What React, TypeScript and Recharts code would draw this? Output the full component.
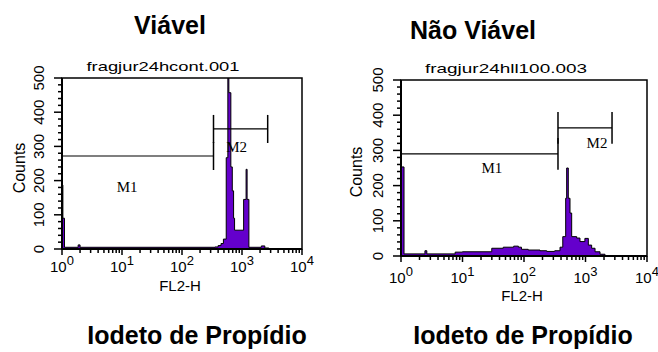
import React from 'react';
import { AreaChart, Area, XAxis, YAxis, ReferenceArea, ReferenceLine, ReferenceDot } from 'recharts';

// FL2-H value where each histogram step starts, and its count
const viavelFl2 = [1, 1.035, 1.1, 1.86, 2, 355, 400, 447, 490, 546, 581, 604, 652, 689, 724, 752, 1064, 1170, 1216, 1303, 2100, 2400, 2800, 10000];
const viavelCounts = [187, 90, 5, 12, 5, 6, 10, 16, 29, 267, 620, 457, 240, 170, 90, 55, 145, 233, 145, 5, 9, 3, 0, 0];

const naoViavelFl2 = [1, 1.12, 2.45, 2.63, 7.6, 10, 29.9, 46, 68, 81, 91, 117, 182, 234, 316, 385, 427, 476, 494, 525, 560, 596, 719, 813, 977, 1112, 1259, 1429, 1722, 2075, 10000];
const naoViavelCounts = [253, 6, 15, 6, 11, 12, 22, 25, 28, 25, 19, 17, 15, 13, 15, 25, 55, 164, 250, 164, 122, 55, 51, 41, 50, 31, 22, 12, 5, 0, 0];

// markers: [name, from, to, height(counts), label x, label y]
const viavelMarkers: [string, number, number, number, number, number][] = [
  ['M1', 1, 335, 272, 12.2, 181],
  ['M2', 335, 2680, 351, 813, 298],
];
const naoViavelMarkers: [string, number, number, number, number, number][] = [
  ['M1', 1, 357, 290, 30, 250],
  ['M2', 357, 2700, 364, 1540, 321],
];

const xDecades = [1, 10, 100, 1000, 10000];
const xMinorSteps = [2, 3, 4, 5, 6, 7, 8, 9];
const yMajor = [0, 100, 200, 300, 400, 500];
const yMinorStep = 20;

const xTicks: number[] = [];
xDecades.forEach((d, i) => {
  xTicks.push(d);
  if (i < xDecades.length - 1) xMinorSteps.forEach((m) => xTicks.push(d * m));
});
const yTicks: number[] = [];
for (let v = 0; v <= 500; v += yMinorStep) yTicks.push(v);

const sans = '"Liberation Sans", Arial, Helvetica, sans-serif';
const serif = '"Liberation Serif", "Times New Roman", serif';
const purple = '#6400cc';

const renderXTick = (labelDy: number) => (props: any) => {
  const x = Number(props.x);
  const y = Number(props.y);
  const lg = Math.log10(props.payload.value);
  const exp = Math.round(lg);
  const major = Math.abs(lg - exp) < 1e-6;
  return (
    <g>
      <line x1={x} x2={x} y1={y} y2={y + (major ? 6 : 4)} stroke="#000" strokeWidth={1.5} />
      {major && (
        <text x={x} y={y + labelDy} textAnchor="middle" fontSize={15} fontFamily={sans} fill="#000" stroke="none">
          10<tspan dy={-7} fontSize={13}>{exp}</tspan>
        </text>
      )}
    </g>
  );
};

const renderYTick = (props: any) => {
  const x = Number(props.x);
  const y = Number(props.y);
  const v = props.payload.value;
  const major = yMajor.includes(v);
  return (
    <g>
      <line x1={x - (major ? 8 : 4)} x2={x} y1={y} y2={y} stroke="#000" strokeWidth={1.5} />
      {major && (
        <g transform={`translate(${x - 18},${y}) rotate(-90)`}>
          <text x={0} y={0} textAnchor="middle" fontSize={15} fontFamily={sans} fill="#000" stroke="none">
            {v}
          </text>
        </g>
      )}
    </g>
  );
};

const Histogram = ({ fl2, counts, markers, margin, tickHalf, labelDy }: any) => {
  const data = fl2.map((x: number, i: number) => ({ x, c: counts[i] }));
  return (
    <AreaChart width={329} height={352} data={data} margin={margin}>
      <XAxis
        dataKey="x"
        type="number"
        scale="log"
        domain={[1, 10000]}
        allowDataOverflow
        ticks={xTicks}
        interval={0}
        height={40}
        tickSize={0}
        tickMargin={0}
        tickLine={false}
        axisLine={{ stroke: '#000', strokeWidth: 2 }}
        tick={renderXTick(labelDy)}
      />
      <YAxis
        type="number"
        domain={[0, 500]}
        allowDataOverflow
        ticks={yTicks}
        interval={0}
        width={50}
        tickSize={0}
        tickMargin={0}
        tickLine={false}
        axisLine={{ stroke: '#000', strokeWidth: 2 }}
        tick={renderYTick}
      />
      <Area
        type="stepAfter"
        dataKey="c"
        stroke="#000"
        strokeWidth={1}
        fill={purple}
        fillOpacity={1}
        isAnimationActive={false}
        dot={false}
        activeDot={false}
      />
      <ReferenceArea x1={1} x2={10000} y1={0} y2={500} fill="none" stroke="#000" strokeWidth={1.5} />
      {markers.map(([name, from, to, h, lx, ly]: any) => (
        <React.Fragment key={name}>
          <ReferenceLine segment={[{ x: from, y: h }, { x: to, y: h }]} stroke="#000" strokeWidth={1.2} />
          <ReferenceLine segment={[{ x: from, y: h - tickHalf }, { x: from, y: h + tickHalf }]} stroke="#000" strokeWidth={1.5} />
          <ReferenceLine segment={[{ x: to, y: h - tickHalf }, { x: to, y: h + tickHalf }]} stroke="#000" strokeWidth={1.5} />
          <ReferenceDot
            x={lx}
            y={ly}
            r={0}
            shape={(p: any) => (
              <text x={p.cx} y={p.cy + 5} textAnchor="middle" fontSize={15} fontFamily={serif} fill="#000">
                {name}
              </text>
            )}
          />
        </React.Fragment>
      ))}
    </AreaChart>
  );
};

export default function App() {
  return (
    <div style={{ position: 'absolute', left: 0, top: 0, width: 658, height: 352, background: '#fff', overflow: 'hidden' }}>
      <div style={{ position: 'absolute', left: 0, top: 0 }}>
        <Histogram
          fl2={viavelFl2}
          counts={viavelCounts}
          markers={viavelMarkers}
          margin={{ top: 78, right: 27, bottom: 63, left: 12 }}
          tickHalf={41}
          labelDy={23}
        />
      </div>
      <div style={{ position: 'absolute', left: 329, top: 0 }}>
        <Histogram
          fl2={naoViavelFl2}
          counts={naoViavelCounts}
          markers={naoViavelMarkers}
          margin={{ top: 80, right: 11, bottom: 56, left: 22 }}
          tickHalf={45}
          labelDy={27}
        />
      </div>
      <svg width={658} height={352} style={{ position: 'absolute', left: 0, top: 0, pointerEvents: 'none' }}>
        <g fontFamily={sans} fill="#000">
          <text x={170} y={34} textAnchor="middle" fontSize={25} fontWeight="bold">Viável</text>
          <text x={473} y={39} textAnchor="middle" fontSize={25} fontWeight="bold">Não Viável</text>
          <text x={163} y={71} textAnchor="middle" fontSize={13} textLength={153} lengthAdjust="spacingAndGlyphs">fragjur24hcont.001</text>
          <text x={506} y={72.5} textAnchor="middle" fontSize={13} textLength={162} lengthAdjust="spacingAndGlyphs">fragjur24hll100.003</text>
          <text x={25} y={168} transform="rotate(-90 25 168)" textAnchor="middle" fontSize={16}>Counts</text>
          <text x={362} y={172} transform="rotate(-90 362 172)" textAnchor="middle" fontSize={16}>Counts</text>
          <text x={180} y={291} textAnchor="middle" fontSize={15}>FL2-H</text>
          <text x={522} y={301} textAnchor="middle" fontSize={15}>FL2-H</text>
          <text x={197} y={344} textAnchor="middle" fontSize={25} fontWeight="bold">Iodeto de Propídio</text>
          <text x={523} y={344} textAnchor="middle" fontSize={25} fontWeight="bold">Iodeto de Propídio</text>
        </g>
      </svg>
    </div>
  );
}
